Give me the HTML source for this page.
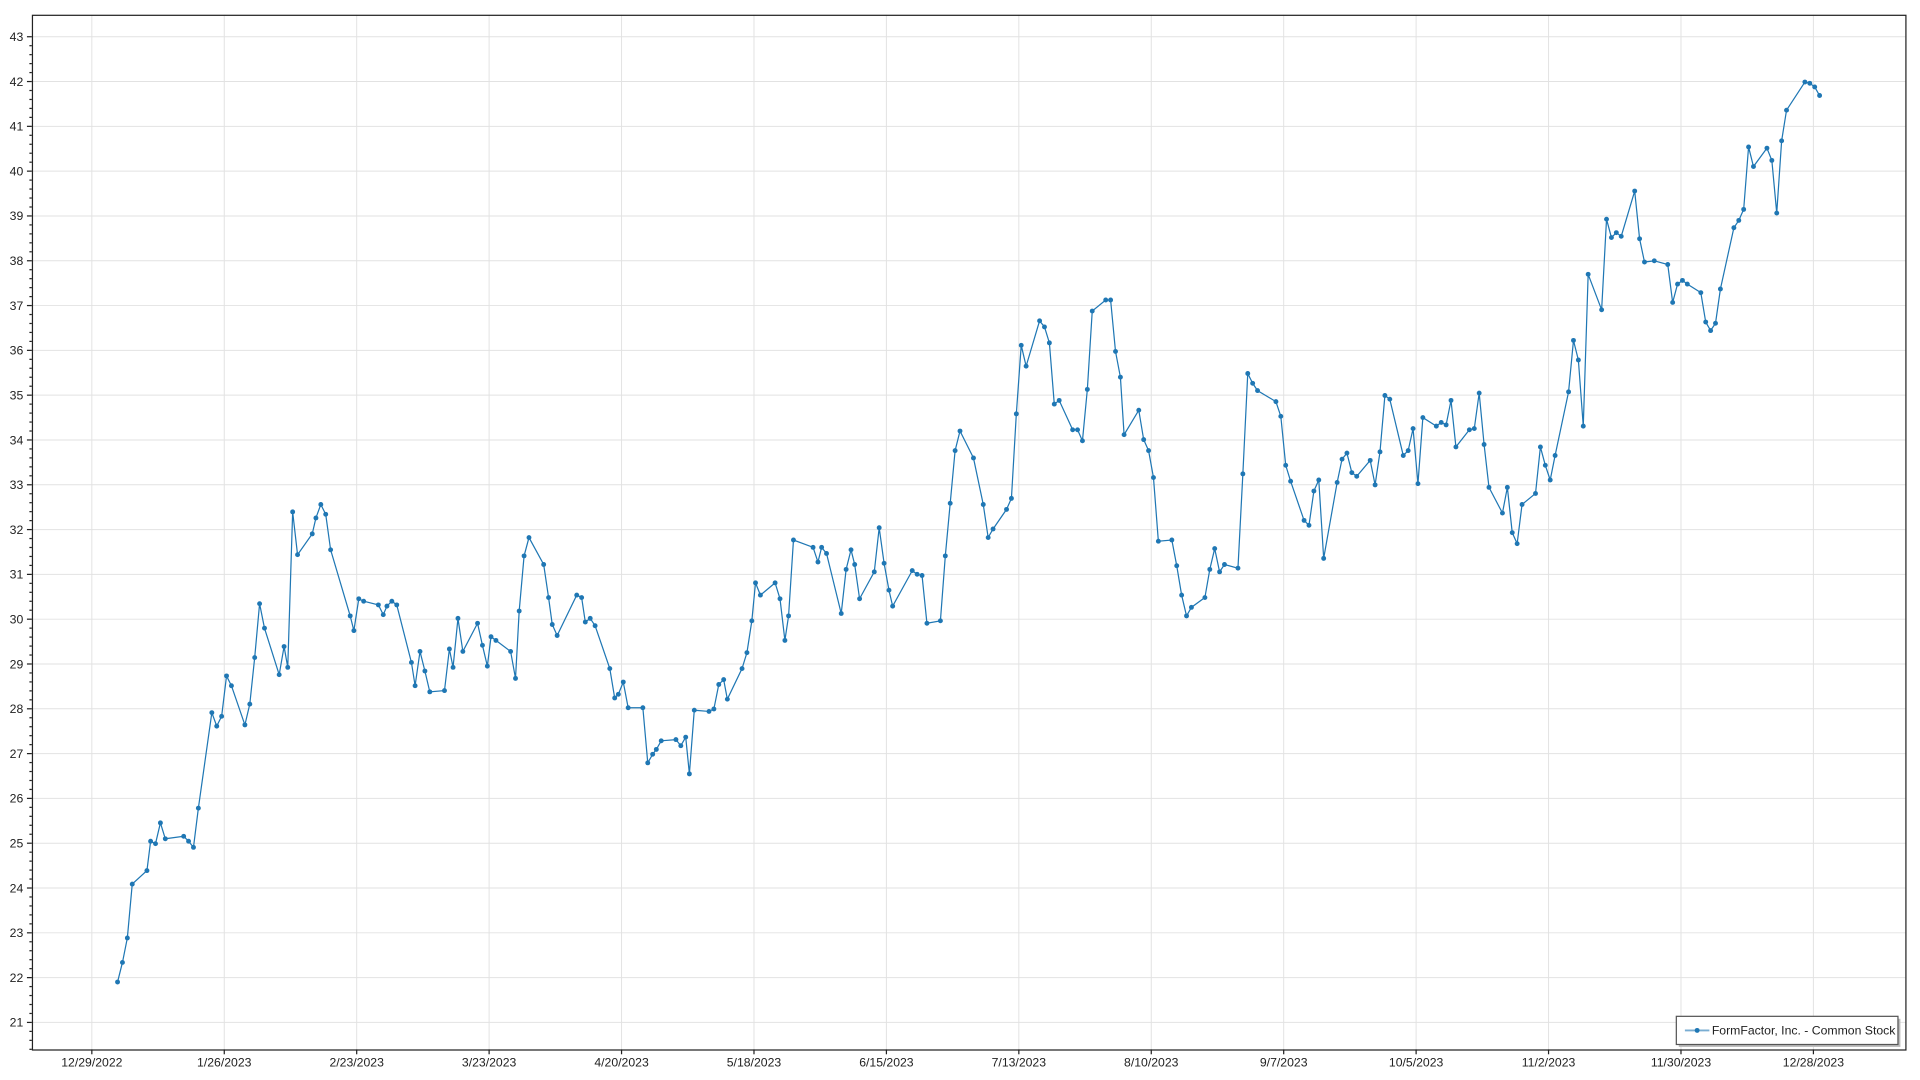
<!DOCTYPE html>
<html><head><meta charset="utf-8"><style>
html,body{margin:0;padding:0;background:#fff;}
svg{display:block;font-family:"Liberation Sans",sans-serif;}
</style></head><body>
<svg width="1920" height="1080" viewBox="0 0 1568 882" xmlns="http://www.w3.org/2000/svg">
<rect width="1568" height="882" fill="#fff"/>
<g id="grid" stroke="#e2e2e2" stroke-width="0.8"></g>
<g id="axes"></g>
<rect x="26.5" y="12.5" width="1530" height="845" fill="none" stroke="#222" stroke-width="1"/>
<polyline id="line" fill="none" stroke="#1f77b4" stroke-width="1"/>
<g id="dots" fill="#1f77b4"></g>
<rect x="1371" y="832" width="181" height="23" fill="#bbb"/>
<rect x="1369" y="830" width="181" height="23" fill="#fff" stroke="#555" stroke-width="1"/>
<line x1="1376" y1="841.5" x2="1396" y2="841.5" stroke="#1f77b4" stroke-opacity="0.6" stroke-width="1.5"/>
<circle cx="1386" cy="841.5" r="2" fill="#1f77b4"/>
<text x="1398" y="845" font-size="10" fill="#222">FormFactor, Inc. - Common Stock</text>
</svg>
<script>
const ns="http://www.w3.org/2000/svg";
const grid=document.getElementById('grid'),axes=document.getElementById('axes');
function el(p,t,a,txt){const e=document.createElementNS(ns,t);for(const k in a)e.setAttribute(k,a[k]);if(txt)e.textContent=txt;p.appendChild(e);return e;}
const xl=["12/29/2022","1/26/2023","2/23/2023","3/23/2023","4/20/2023","5/18/2023","6/15/2023","7/13/2023","8/10/2023","9/7/2023","10/5/2023","11/2/2023","11/30/2023","12/28/2023"];
xl.forEach((l,i)=>{const x=75+i*108.15;el(grid,'line',{x1:x,y1:12,x2:x,y2:857});el(axes,'line',{x1:x,y1:857,x2:x,y2:861,stroke:'#222'});el(axes,'text',{x:x,y:871,'font-size':10,'text-anchor':'middle',fill:'#222'},l);});
for(let v=21;v<=43;v++){const y=30+(43-v)*36.59;el(grid,'line',{x1:26,y1:y,x2:1556,y2:y});el(axes,'line',{x1:22,y1:y,x2:26,y2:y,stroke:'#222'});el(axes,'text',{x:19,y:y+3.5,'font-size':10,'text-anchor':'end',fill:'#222'},String(v));
for(let m=1;m<5;m++){const ym=y+m*36.59/5;if(ym<857)el(axes,'line',{x1:24,y1:ym,x2:26,y2:ym,stroke:'#222'});}}
const pts=[[96,802],[100,786],[104,766],[108,722],[120,711],[123,687],[127,689],[131,672],[135,685],[150,683],[154,687],[158,692],[162,660],[173,582],[177,593],[181,585],[185,552],[189,560],[200,592],[204,575],[208,537],[212,493],[216,513],[228,551],[232,528],[235,545],[239,418],[243,453],[255,436],[258,423],[262,412],[266,420],[270,449],[286,503],[289,515],[293,489],[297,491],[309,494],[313,502],[316,495],[320,491],[324,494],[336,541],[339,560],[343,532],[347,548],[351,565],[363,564],[367,530],[370,545],[374,505],[378,532],[390,509],[394,527],[398,544],[401,520],[405,523],[417,532],[421,554],[424,499],[428,454],[432,439],[444,461],[448,488],[451,510],[455,519],[471,486],[475,488],[478,508],[482,505],[486,511],[498,546],[502,570],[505,567],[509,557],[513,578],[525,578],[529,623],[533,616],[536,612],[540,605],[552,604],[556,609],[560,602],[563,632],[567,580],[579,581],[583,579],[587,559],[591,555],[594,571],[606,546],[610,533],[614,507],[617,476],[621,486],[633,476],[637,489],[641,523],[644,503],[648,441],[664,447],[668,459],[671,447],[675,452],[687,501],[691,465],[695,449],[698,461],[702,489],[714,467],[718,431],[722,460],[726,482],[729,495],[745,466],[749,469],[753,470],[757,509],[768,507],[772,454],[776,411],[780,368],[784,352],[795,374],[803,412],[807,439],[811,432],[822,416],[826,407],[830,338],[834,282],[838,299],[849,262],[853,267],[857,280],[861,330],[865,327],[876,351],[880,351],[884,360],[888,318],[892,254],[903,245],[907,245],[911,287],[915,308],[918,355],[930,335],[934,359],[938,368],[942,390],[946,442],[957,441],[961,462],[965,486],[969,503],[973,496],[984,488],[988,465],[992,448],[996,467],[1000,461],[1011,464],[1015,387],[1019,305],[1023,313],[1027,319],[1042,328],[1046,340],[1050,380],[1054,393],[1065,425],[1069,429],[1073,401],[1077,392],[1081,456],[1092,394],[1096,375],[1100,370],[1104,386],[1108,389],[1119,376],[1123,396],[1127,369],[1131,323],[1135,326],[1146,372],[1150,368],[1154,350],[1158,395],[1162,341],[1173,348],[1177,345],[1181,347],[1185,327],[1189,365],[1200,351],[1204,350],[1208,321],[1212,363],[1216,398],[1227,419],[1231,398],[1235,435],[1239,444],[1243,412],[1254,403],[1258,365],[1262,380],[1266,392],[1270,372],[1281,320],[1285,278],[1289,294],[1293,348],[1297,224],[1308,253],[1312,179],[1316,194],[1320,190],[1324,193],[1335,156],[1339,195],[1343,214],[1351,213],[1362,216],[1366,247],[1370,232],[1374,229],[1378,232],[1389,239],[1393,263],[1397,270],[1401,264],[1405,236],[1416,186],[1420,180],[1424,171],[1428,120],[1432,136],[1443,121],[1447,131],[1451,174],[1455,115],[1459,90],[1474,67],[1478,68],[1482,71],[1486,78]];
document.getElementById('line').setAttribute('points',pts.map(p=>p.join(',')).join(' '));
const d=document.getElementById('dots');pts.forEach(p=>el(d,'circle',{cx:p[0],cy:p[1],r:2}));
</script>
</body></html>
